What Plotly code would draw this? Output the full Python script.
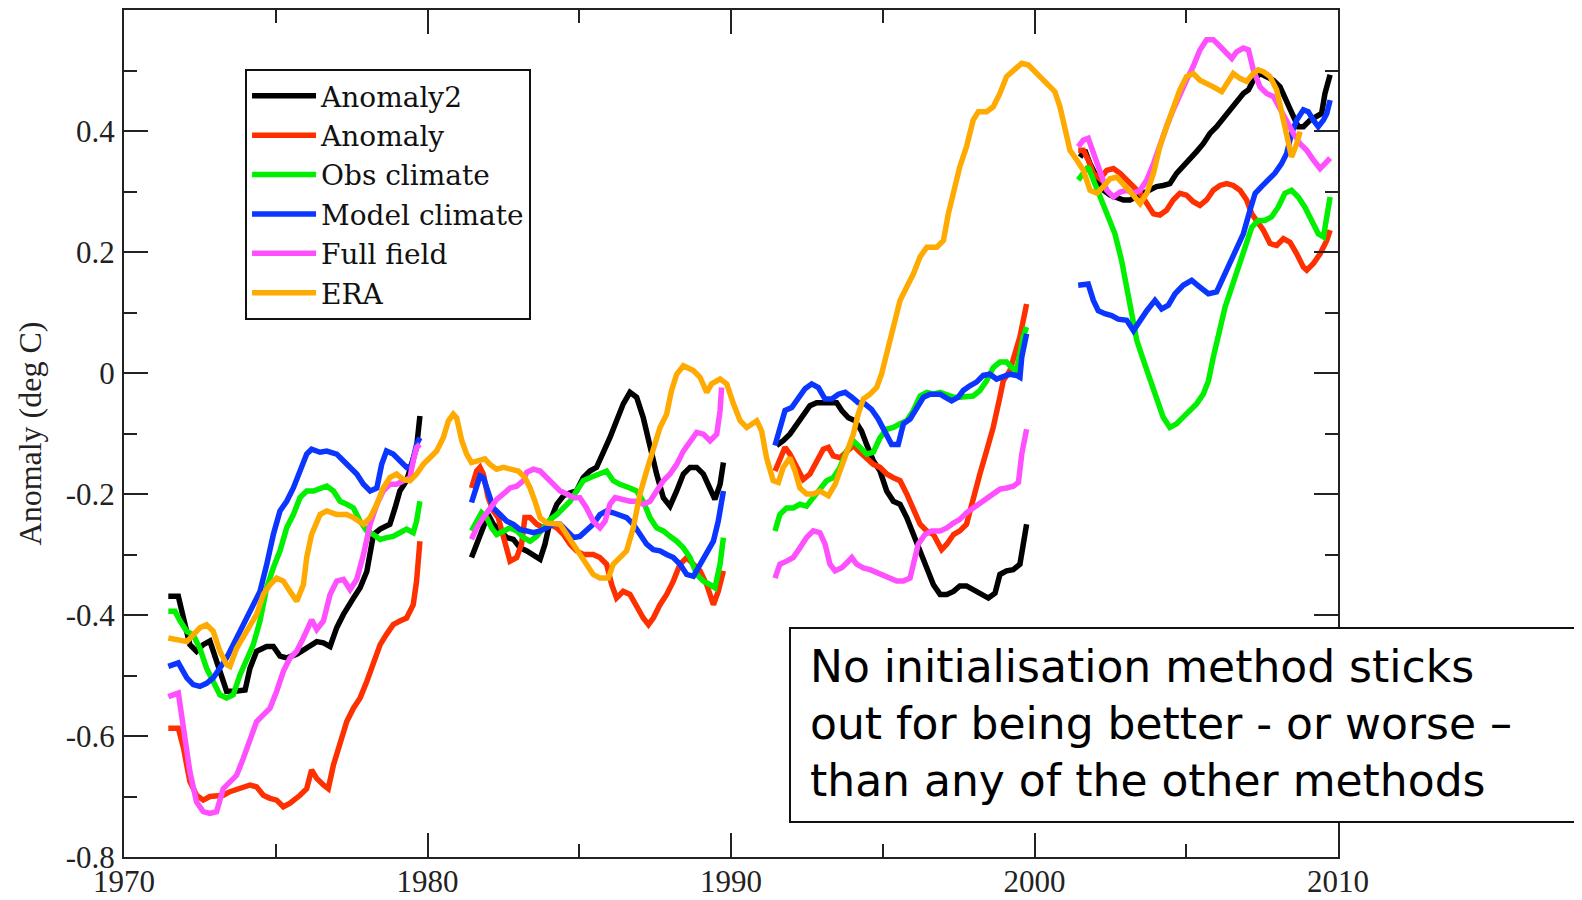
import plotly.graph_objects as go

# ---------------- data (years, anomaly in deg C); None separates forecast periods ----------------
anomaly2_years = [1971.46, 1971.79, 1971.96, 1972.17, 1972.39, 1972.61, 1972.83, 1973.05, 1973.27, 1973.38, 1973.66, 1973.99, 1974.15, 1974.37, 1974.70, 1974.92, 1975.14, 1975.36, 1975.69, 1976.02, 1976.35, 1976.57, 1976.79, 1977.01, 1977.23, 1977.56, 1977.78, 1978.00, 1978.22, 1978.44, 1978.76, 1978.93, 1979.09, 1979.31, 1979.53, 1979.64, 1979.75,
                  None,
                  1981.45, 1981.62, 1981.84, 1982.00, 1982.17, 1982.39, 1982.61, 1982.83, 1983.05, 1983.27, 1983.49, 1983.71, 1983.87, 1984.04, 1984.26, 1984.48, 1984.70, 1984.91, 1985.13, 1985.35, 1985.57, 1985.79, 1986.01, 1986.23, 1986.45, 1986.67, 1986.89, 1987.11, 1987.33, 1987.55, 1987.77, 1987.99, 1988.21, 1988.43, 1988.65, 1988.87, 1989.09, 1989.31, 1989.47, 1989.64, 1989.75,
                  None,
                  1991.50, 1991.72, 1991.94, 1992.16, 1992.38, 1992.60, 1992.82, 1993.04, 1993.26, 1993.48, 1993.65, 1993.87, 1994.09, 1994.30, 1994.47, 1994.69, 1994.91, 1995.13, 1995.35, 1995.57, 1995.79, 1996.01, 1996.23, 1996.45, 1996.67, 1996.89, 1997.11, 1997.33, 1997.54, 1997.76, 1997.98, 1998.20, 1998.48, 1998.70, 1998.86, 1999.08, 1999.30, 1999.52, 1999.63, 1999.74,
                  None,
                  2001.50, 2001.66, 2001.83, 2002.05, 2002.27, 2002.49, 2002.71, 2002.93, 2003.15, 2003.37, 2003.59, 2003.81, 2004.02, 2004.24, 2004.46, 2004.68, 2004.90, 2005.12, 2005.34, 2005.56, 2005.78, 2006.00, 2006.22, 2006.44, 2006.66, 2006.88, 2007.05, 2007.21, 2007.43, 2007.65, 2007.87, 2008.09, 2008.31, 2008.53, 2008.69, 2008.86, 2009.08, 2009.30, 2009.46, 2009.57, 2009.74]
anomaly2_vals = [-0.369, -0.369, -0.405, -0.449, -0.460, -0.449, -0.443, -0.477, -0.504, -0.526, -0.526, -0.524, -0.488, -0.460, -0.452, -0.452, -0.468, -0.471, -0.465, -0.455, -0.444, -0.446, -0.452, -0.421, -0.399, -0.372, -0.355, -0.328, -0.267, -0.258, -0.250, -0.223, -0.195, -0.178, -0.140, -0.123, -0.071,
                 None,
                 -0.305, -0.283, -0.250, -0.234, -0.250, -0.261, -0.272, -0.275, -0.289, -0.294, -0.300, -0.308, -0.283, -0.245, -0.217, -0.203, -0.198, -0.195, -0.173, -0.162, -0.156, -0.134, -0.107, -0.079, -0.051, -0.032, -0.040, -0.074, -0.123, -0.167, -0.206, -0.220, -0.195, -0.167, -0.156, -0.156, -0.167, -0.190, -0.209, -0.184, -0.148,
                 None,
                 -0.120, -0.112, -0.101, -0.084, -0.068, -0.054, -0.049, -0.049, -0.049, -0.049, -0.062, -0.074, -0.079, -0.096, -0.118, -0.145, -0.162, -0.195, -0.212, -0.217, -0.239, -0.267, -0.300, -0.322, -0.350, -0.366, -0.366, -0.361, -0.352, -0.352, -0.358, -0.366, -0.372, -0.364, -0.333, -0.327, -0.325, -0.316, -0.283, -0.250,
                 None,
                 0.357, 0.368, 0.346, 0.324, 0.302, 0.294, 0.291, 0.286, 0.286, 0.291, 0.297, 0.302, 0.308, 0.310, 0.313, 0.330, 0.341, 0.352, 0.366, 0.379, 0.396, 0.407, 0.421, 0.435, 0.448, 0.462, 0.468, 0.484, 0.495, 0.490, 0.484, 0.473, 0.451, 0.424, 0.407, 0.407, 0.418, 0.424, 0.429, 0.462, 0.493]

anomaly_years = [1971.46, 1971.79, 1971.96, 1972.17, 1972.39, 1972.61, 1972.83, 1973.05, 1973.27, 1973.49, 1973.82, 1974.15, 1974.37, 1974.59, 1974.81, 1975.03, 1975.25, 1975.47, 1975.80, 1976.02, 1976.18, 1976.35, 1976.57, 1976.73, 1976.90, 1977.12, 1977.34, 1977.56, 1977.78, 1978.00, 1978.22, 1978.44, 1978.65, 1978.87, 1979.09, 1979.31, 1979.53, 1979.64, 1979.75,
                 None,
                 1981.45, 1981.62, 1981.73, 1981.84, 1982.00, 1982.17, 1982.33, 1982.50, 1982.72, 1982.94, 1983.10, 1983.21, 1983.38, 1983.60, 1983.82, 1984.04, 1984.26, 1984.48, 1984.70, 1984.91, 1985.13, 1985.46, 1985.68, 1985.90, 1986.07, 1986.23, 1986.45, 1986.67, 1986.89, 1987.11, 1987.28, 1987.44, 1987.66, 1987.88, 1988.10, 1988.32, 1988.54, 1988.76, 1988.98, 1989.20, 1989.42, 1989.58, 1989.75,
                 None,
                 1991.45, 1991.61, 1991.78, 1991.94, 1992.16, 1992.38, 1992.60, 1992.82, 1993.04, 1993.21, 1993.37, 1993.59, 1993.81, 1994.03, 1994.25, 1994.47, 1994.69, 1994.91, 1995.13, 1995.35, 1995.57, 1995.79, 1996.01, 1996.23, 1996.45, 1996.67, 1996.94, 1997.11, 1997.33, 1997.54, 1997.76, 1997.98, 1998.20, 1998.42, 1998.64, 1998.86, 1998.97, 1999.19, 1999.41, 1999.52, 1999.74,
                 None,
                 2001.44, 2001.61, 2001.77, 2001.94, 2002.16, 2002.38, 2002.60, 2002.82, 2003.04, 2003.26, 2003.48, 2003.70, 2003.92, 2004.13, 2004.35, 2004.57, 2004.79, 2005.01, 2005.23, 2005.45, 2005.67, 2005.89, 2006.11, 2006.33, 2006.55, 2006.77, 2006.99, 2007.16, 2007.32, 2007.54, 2007.76, 2007.98, 2008.20, 2008.42, 2008.64, 2008.86, 2008.97, 2009.19, 2009.41, 2009.63, 2009.74]
anomaly_vals = [-0.587, -0.587, -0.620, -0.675, -0.698, -0.706, -0.700, -0.698, -0.698, -0.692, -0.687, -0.681, -0.684, -0.698, -0.703, -0.706, -0.717, -0.711, -0.698, -0.687, -0.656, -0.670, -0.681, -0.687, -0.648, -0.609, -0.576, -0.554, -0.537, -0.510, -0.482, -0.449, -0.432, -0.416, -0.410, -0.405, -0.383, -0.344, -0.278,
                None,
                -0.190, -0.162, -0.156, -0.167, -0.206, -0.228, -0.239, -0.272, -0.311, -0.305, -0.283, -0.239, -0.239, -0.250, -0.256, -0.250, -0.256, -0.267, -0.283, -0.294, -0.300, -0.300, -0.305, -0.316, -0.350, -0.372, -0.361, -0.366, -0.388, -0.405, -0.416, -0.405, -0.383, -0.366, -0.344, -0.316, -0.305, -0.316, -0.327, -0.350, -0.383, -0.361, -0.327,
                None,
                -0.162, -0.140, -0.123, -0.134, -0.156, -0.176, -0.167, -0.145, -0.126, -0.123, -0.137, -0.140, -0.129, -0.120, -0.131, -0.142, -0.151, -0.156, -0.167, -0.173, -0.178, -0.200, -0.228, -0.250, -0.261, -0.267, -0.292, -0.283, -0.267, -0.261, -0.250, -0.206, -0.167, -0.129, -0.090, -0.040, -0.013, 0.004, 0.042, 0.060, 0.114,
                None,
                0.368, 0.368, 0.352, 0.330, 0.321, 0.335, 0.338, 0.330, 0.319, 0.308, 0.297, 0.280, 0.263, 0.261, 0.269, 0.286, 0.297, 0.294, 0.283, 0.277, 0.286, 0.302, 0.310, 0.313, 0.310, 0.302, 0.286, 0.263, 0.252, 0.236, 0.214, 0.211, 0.222, 0.216, 0.197, 0.175, 0.170, 0.181, 0.197, 0.219, 0.236]

obs_years = [1971.46, 1971.68, 1971.85, 1972.07, 1972.28, 1972.50, 1972.72, 1972.94, 1973.16, 1973.38, 1973.60, 1973.82, 1974.04, 1974.26, 1974.48, 1974.70, 1974.92, 1975.14, 1975.36, 1975.58, 1975.80, 1976.02, 1976.24, 1976.46, 1976.68, 1976.90, 1977.12, 1977.34, 1977.56, 1977.78, 1978.00, 1978.22, 1978.44, 1978.65, 1978.87, 1979.09, 1979.31, 1979.53, 1979.64, 1979.75,
             None,
             1981.45, 1981.62, 1981.78, 1981.95, 1982.11, 1982.28, 1982.50, 1982.72, 1982.94, 1983.16, 1983.38, 1983.60, 1983.82, 1984.04, 1984.26, 1984.48, 1984.70, 1984.91, 1985.13, 1985.35, 1985.68, 1985.90, 1986.12, 1986.34, 1986.67, 1986.89, 1987.11, 1987.33, 1987.55, 1987.77, 1987.99, 1988.21, 1988.43, 1988.65, 1988.87, 1989.09, 1989.31, 1989.47, 1989.64, 1989.75,
             None,
             1991.45, 1991.61, 1991.83, 1992.05, 1992.27, 1992.49, 1992.71, 1992.93, 1993.15, 1993.37, 1993.59, 1993.81, 1994.03, 1994.25, 1994.47, 1994.69, 1994.91, 1995.13, 1995.35, 1995.57, 1995.79, 1996.01, 1996.23, 1996.45, 1996.67, 1996.89, 1997.11, 1997.33, 1997.54, 1997.76, 1997.98, 1998.20, 1998.42, 1998.64, 1998.86, 1999.08, 1999.25, 1999.41, 1999.52, 1999.63, 1999.74,
             None,
             2001.44, 2001.61, 2001.77, 2001.99, 2002.21, 2002.43, 2002.65, 2002.87, 2003.04, 2003.20, 2003.37, 2003.59, 2003.81, 2004.02, 2004.24, 2004.46, 2004.68, 2004.90, 2005.12, 2005.34, 2005.56, 2005.73, 2005.89, 2006.11, 2006.28, 2006.50, 2006.72, 2006.94, 2007.16, 2007.37, 2007.59, 2007.81, 2008.03, 2008.25, 2008.47, 2008.69, 2008.91, 2009.13, 2009.35, 2009.52, 2009.63, 2009.74]
obs_vals = [-0.394, -0.394, -0.410, -0.427, -0.433, -0.455, -0.488, -0.510, -0.532, -0.537, -0.532, -0.499, -0.471, -0.449, -0.410, -0.355, -0.322, -0.294, -0.256, -0.234, -0.206, -0.195, -0.195, -0.190, -0.187, -0.195, -0.212, -0.217, -0.223, -0.245, -0.261, -0.267, -0.275, -0.272, -0.270, -0.264, -0.258, -0.264, -0.245, -0.212,
            None,
            -0.261, -0.245, -0.231, -0.239, -0.256, -0.267, -0.261, -0.256, -0.261, -0.272, -0.278, -0.270, -0.256, -0.242, -0.234, -0.223, -0.212, -0.195, -0.178, -0.173, -0.167, -0.162, -0.178, -0.184, -0.190, -0.195, -0.212, -0.239, -0.256, -0.261, -0.270, -0.278, -0.289, -0.305, -0.333, -0.344, -0.350, -0.355, -0.316, -0.272,
            None,
            -0.261, -0.234, -0.223, -0.223, -0.217, -0.220, -0.206, -0.190, -0.178, -0.173, -0.156, -0.129, -0.112, -0.123, -0.134, -0.131, -0.107, -0.093, -0.090, -0.084, -0.079, -0.062, -0.038, -0.032, -0.035, -0.032, -0.035, -0.040, -0.040, -0.038, -0.038, -0.029, -0.013, 0.009, 0.018, 0.018, 0.009, 0.004, 0.037, 0.060, 0.076,
            None,
            0.319, 0.330, 0.341, 0.313, 0.286, 0.258, 0.230, 0.186, 0.142, 0.098, 0.054, 0.021, -0.013, -0.046, -0.073, -0.090, -0.084, -0.073, -0.062, -0.051, -0.035, -0.013, 0.026, 0.070, 0.109, 0.142, 0.175, 0.208, 0.241, 0.252, 0.252, 0.258, 0.274, 0.297, 0.302, 0.291, 0.274, 0.252, 0.230, 0.225, 0.258, 0.291]

model_years = [1971.46, 1971.79, 1972.07, 1972.28, 1972.50, 1972.72, 1972.94, 1973.16, 1973.38, 1973.60, 1973.82, 1974.04, 1974.26, 1974.48, 1974.70, 1974.92, 1975.14, 1975.36, 1975.58, 1975.80, 1976.02, 1976.18, 1976.46, 1976.68, 1977.01, 1977.23, 1977.45, 1977.67, 1977.89, 1978.11, 1978.33, 1978.49, 1978.65, 1978.87, 1979.09, 1979.31, 1979.48, 1979.64, 1979.75,
               None,
               1981.45, 1981.62, 1981.73, 1981.84, 1982.00, 1982.17, 1982.39, 1982.61, 1982.83, 1983.05, 1983.27, 1983.49, 1983.71, 1983.93, 1984.15, 1984.37, 1984.59, 1984.81, 1985.02, 1985.24, 1985.46, 1985.68, 1985.90, 1986.12, 1986.34, 1986.56, 1986.78, 1987.00, 1987.22, 1987.44, 1987.66, 1987.88, 1988.10, 1988.32, 1988.54, 1988.76, 1988.98, 1989.20, 1989.42, 1989.58, 1989.75,
               None,
               1991.45, 1991.61, 1991.78, 1992.00, 1992.22, 1992.44, 1992.66, 1992.88, 1993.10, 1993.32, 1993.54, 1993.76, 1993.98, 1994.19, 1994.41, 1994.63, 1994.85, 1995.07, 1995.29, 1995.51, 1995.68, 1995.90, 1996.12, 1996.34, 1996.56, 1996.89, 1997.05, 1997.27, 1997.49, 1997.65, 1997.87, 1998.09, 1998.31, 1998.53, 1998.75, 1998.97, 1999.19, 1999.41, 1999.52, 1999.58, 1999.74,
               None,
               2001.44, 2001.77, 2001.94, 2002.10, 2002.32, 2002.54, 2002.76, 2003.04, 2003.26, 2003.48, 2003.70, 2003.97, 2004.19, 2004.41, 2004.63, 2004.90, 2005.18, 2005.45, 2005.73, 2006.00, 2006.22, 2006.44, 2006.66, 2006.88, 2007.10, 2007.27, 2007.48, 2007.70, 2007.92, 2008.14, 2008.31, 2008.47, 2008.64, 2008.86, 2009.02, 2009.19, 2009.35, 2009.52, 2009.63, 2009.74]
model_vals = [-0.485, -0.479, -0.504, -0.515, -0.518, -0.513, -0.504, -0.488, -0.471, -0.449, -0.427, -0.410, -0.388, -0.361, -0.317, -0.267, -0.228, -0.212, -0.190, -0.162, -0.134, -0.126, -0.131, -0.129, -0.134, -0.145, -0.156, -0.167, -0.184, -0.195, -0.190, -0.151, -0.129, -0.134, -0.145, -0.156, -0.153, -0.118, -0.107,
              None,
              -0.214, -0.184, -0.170, -0.173, -0.200, -0.223, -0.234, -0.245, -0.250, -0.259, -0.261, -0.264, -0.261, -0.256, -0.250, -0.250, -0.261, -0.272, -0.270, -0.261, -0.250, -0.234, -0.228, -0.231, -0.234, -0.239, -0.250, -0.267, -0.283, -0.292, -0.294, -0.300, -0.305, -0.316, -0.333, -0.336, -0.316, -0.294, -0.278, -0.245, -0.195,
              None,
              -0.120, -0.090, -0.062, -0.057, -0.040, -0.026, -0.018, -0.024, -0.043, -0.043, -0.035, -0.032, -0.040, -0.049, -0.051, -0.060, -0.076, -0.096, -0.118, -0.118, -0.084, -0.076, -0.057, -0.040, -0.035, -0.035, -0.040, -0.046, -0.040, -0.029, -0.021, -0.015, -0.004, -0.002, -0.010, -0.007, -0.002, -0.004, -0.007, 0.026, 0.065,
              None,
              0.145, 0.147, 0.120, 0.103, 0.098, 0.095, 0.089, 0.087, 0.070, 0.087, 0.103, 0.120, 0.106, 0.112, 0.131, 0.145, 0.153, 0.142, 0.131, 0.134, 0.158, 0.181, 0.203, 0.230, 0.269, 0.297, 0.308, 0.319, 0.330, 0.346, 0.363, 0.396, 0.418, 0.435, 0.432, 0.418, 0.407, 0.418, 0.429, 0.451]

full_years = [1971.46, 1971.79, 1971.96, 1972.17, 1972.39, 1972.61, 1972.83, 1973.05, 1973.27, 1973.49, 1973.71, 1973.93, 1974.15, 1974.37, 1974.59, 1974.81, 1975.03, 1975.25, 1975.47, 1975.69, 1975.91, 1976.18, 1976.35, 1976.57, 1976.79, 1977.01, 1977.23, 1977.45, 1977.67, 1977.89, 1978.11, 1978.33, 1978.54, 1978.76, 1978.98, 1979.20, 1979.42, 1979.53, 1979.64, 1979.75,
              None,
              1981.45, 1981.62, 1981.84, 1982.06, 1982.28, 1982.50, 1982.72, 1982.94, 1983.16, 1983.27, 1983.49, 1983.71, 1983.93, 1984.15, 1984.37, 1984.59, 1984.81, 1985.02, 1985.24, 1985.46, 1985.68, 1985.85, 1986.01, 1986.18, 1986.45, 1986.67, 1986.89, 1987.11, 1987.33, 1987.55, 1987.77, 1987.99, 1988.21, 1988.43, 1988.65, 1988.87, 1989.09, 1989.31, 1989.53, 1989.64, 1989.69,
              None,
              1991.45, 1991.61, 1991.83, 1992.05, 1992.27, 1992.49, 1992.71, 1992.93, 1993.10, 1993.26, 1993.43, 1993.65, 1993.81, 1993.98, 1994.14, 1994.36, 1994.58, 1994.80, 1995.02, 1995.24, 1995.46, 1995.68, 1995.90, 1996.01, 1996.17, 1996.39, 1996.61, 1996.89, 1997.11, 1997.33, 1997.54, 1997.76, 1997.98, 1998.20, 1998.42, 1998.64, 1998.86, 1999.08, 1999.30, 1999.47, 1999.58, 1999.74,
              None,
              2001.44, 2001.61, 2001.77, 2001.94, 2002.16, 2002.38, 2002.60, 2002.82, 2003.04, 2003.26, 2003.48, 2003.70, 2003.92, 2004.13, 2004.35, 2004.57, 2004.79, 2005.01, 2005.23, 2005.45, 2005.67, 2005.89, 2006.11, 2006.33, 2006.50, 2006.66, 2006.88, 2007.05, 2007.21, 2007.43, 2007.65, 2007.87, 2008.09, 2008.31, 2008.53, 2008.75, 2008.97, 2009.19, 2009.41, 2009.57, 2009.74]
full_vals = [-0.535, -0.529, -0.587, -0.659, -0.709, -0.725, -0.728, -0.725, -0.687, -0.675, -0.665, -0.637, -0.609, -0.576, -0.565, -0.554, -0.526, -0.493, -0.471, -0.460, -0.438, -0.408, -0.424, -0.410, -0.366, -0.344, -0.341, -0.358, -0.341, -0.300, -0.250, -0.217, -0.195, -0.184, -0.184, -0.178, -0.173, -0.145, -0.123, -0.118,
             None,
             -0.275, -0.256, -0.239, -0.223, -0.209, -0.200, -0.190, -0.187, -0.178, -0.164, -0.159, -0.162, -0.173, -0.184, -0.195, -0.200, -0.206, -0.206, -0.223, -0.245, -0.256, -0.245, -0.217, -0.206, -0.209, -0.212, -0.212, -0.217, -0.212, -0.195, -0.178, -0.167, -0.151, -0.129, -0.112, -0.098, -0.101, -0.112, -0.101, -0.062, -0.024,
             None,
             -0.339, -0.316, -0.311, -0.305, -0.289, -0.272, -0.261, -0.264, -0.283, -0.316, -0.327, -0.322, -0.314, -0.305, -0.316, -0.322, -0.325, -0.330, -0.336, -0.341, -0.344, -0.344, -0.339, -0.316, -0.283, -0.267, -0.261, -0.261, -0.256, -0.248, -0.242, -0.231, -0.223, -0.214, -0.206, -0.198, -0.192, -0.190, -0.187, -0.181, -0.134, -0.093,
             None,
             0.374, 0.385, 0.388, 0.363, 0.330, 0.302, 0.291, 0.299, 0.302, 0.297, 0.302, 0.319, 0.346, 0.379, 0.407, 0.435, 0.462, 0.484, 0.507, 0.534, 0.551, 0.551, 0.540, 0.529, 0.520, 0.531, 0.537, 0.534, 0.501, 0.473, 0.462, 0.457, 0.435, 0.413, 0.396, 0.379, 0.368, 0.352, 0.338, 0.346, 0.355]

era_years = [1971.46, 1971.79, 1972.07, 1972.28, 1972.50, 1972.72, 1972.94, 1973.16, 1973.38, 1973.49, 1973.71, 1974.04, 1974.37, 1974.59, 1974.81, 1975.03, 1975.25, 1975.47, 1975.69, 1975.91, 1976.02, 1976.18, 1976.46, 1976.68, 1977.01, 1977.34, 1977.56, 1977.89, 1978.11, 1978.33, 1978.54, 1978.76, 1978.98, 1979.20, 1979.42, 1979.64, 1979.86, 1980.08,
             1980.30, 1980.52, 1980.69, 1980.85, 1980.96, 1981.13, 1981.29, 1981.45, 1981.62, 1981.89, 1982.06, 1982.28, 1982.50, 1982.77, 1982.99, 1983.21, 1983.38, 1983.54, 1983.71, 1983.93, 1984.15, 1984.37, 1984.59, 1984.81, 1985.02, 1985.24, 1985.46, 1985.68, 1985.96, 1986.12, 1986.34, 1986.56, 1986.78, 1987.00, 1987.22, 1987.44, 1987.66, 1987.88, 1988.04, 1988.21, 1988.43, 1988.76, 1988.98, 1989.20, 1989.36, 1989.64, 1989.86, 1990.08, 1990.30,
             1990.52, 1990.85, 1991.01, 1991.17, 1991.39, 1991.56, 1991.72, 1991.94, 1992.11, 1992.27, 1992.49, 1992.71, 1992.93, 1993.21, 1993.43, 1993.59, 1993.81, 1994.03, 1994.19, 1994.36, 1994.58, 1994.80, 1994.96,
             1995.13, 1995.35, 1995.57, 1995.79, 1996.01, 1996.23, 1996.45, 1996.78, 1997.00, 1997.16, 1997.33, 1997.54, 1997.76, 1997.98, 1998.15, 1998.42, 1998.64, 1998.86, 1999.08, 1999.30, 1999.58, 1999.80, 2000.07,
             2000.18, 2000.40, 2000.67, 2000.84, 2001.00, 2001.17, 2001.39, 2001.61, 2001.83, 2002.05, 2002.27, 2002.49, 2002.71, 2002.93, 2003.20, 2003.48, 2003.70, 2003.92, 2004.13, 2004.35, 2004.57, 2004.79, 2005.01, 2005.23, 2005.45, 2005.67, 2005.89, 2006.17, 2006.33, 2006.55, 2006.77, 2006.99, 2007.21, 2007.37, 2007.54, 2007.76, 2007.98, 2008.14, 2008.31, 2008.47, 2008.64, 2008.75]
era_vals = [-0.438, -0.441, -0.444, -0.433, -0.421, -0.416, -0.427, -0.460, -0.482, -0.485, -0.455, -0.427, -0.399, -0.366, -0.350, -0.339, -0.344, -0.361, -0.377, -0.350, -0.305, -0.267, -0.234, -0.228, -0.234, -0.234, -0.239, -0.250, -0.239, -0.217, -0.190, -0.173, -0.167, -0.176, -0.178, -0.167, -0.151, -0.140,
            -0.129, -0.107, -0.079, -0.068, -0.074, -0.112, -0.134, -0.148, -0.145, -0.142, -0.151, -0.159, -0.156, -0.159, -0.162, -0.173, -0.190, -0.212, -0.239, -0.248, -0.248, -0.250, -0.267, -0.283, -0.300, -0.316, -0.333, -0.339, -0.339, -0.316, -0.305, -0.294, -0.256, -0.200, -0.162, -0.129, -0.090, -0.068, -0.029, -0.002, 0.012, 0.004, -0.007, -0.032, -0.018, -0.010, -0.018, -0.051, -0.079,
            -0.090, -0.079, -0.096, -0.140, -0.178, -0.181, -0.156, -0.140, -0.162, -0.190, -0.200, -0.200, -0.195, -0.203, -0.184, -0.162, -0.134, -0.101, -0.068, -0.043, -0.035, -0.024, -0.002,
            0.031, 0.076, 0.120, 0.142, 0.164, 0.192, 0.208, 0.208, 0.219, 0.263, 0.297, 0.341, 0.374, 0.418, 0.432, 0.432, 0.440, 0.462, 0.490, 0.501, 0.512, 0.509, 0.495,
            0.490, 0.476, 0.465, 0.440, 0.402, 0.368, 0.352, 0.335, 0.302, 0.297, 0.308, 0.321, 0.324, 0.313, 0.297, 0.280, 0.297, 0.330, 0.374, 0.407, 0.440, 0.468, 0.490, 0.495, 0.484, 0.479, 0.473, 0.465, 0.479, 0.495, 0.487, 0.482, 0.495, 0.501, 0.498, 0.490, 0.468, 0.429, 0.390, 0.357, 0.379, 0.399]

series_names = ["Anomaly2", "Anomaly", "Obs climate", "Model climate", "Full field", "ERA"]
series_colors = ["#000000", "#ff3000", "#00f000", "#0a36ff", "#ff50ff", "#ffaa00"]

x_tickvals = [1970, 1980, 1990, 2000, 2010]
x_ticktext = ["1970", "1980", "1990", "2000", "2010"]
y_tickvals = [-0.8, -0.6, -0.4, -0.2, 0, 0.2, 0.4]
y_ticktext = ["-0.8", "-0.6", "-0.4", "-0.2", "0", "0.2", "0.4"]

note_text = ("No initialisation method sticks<br>"
             "out for being better - or worse \u2013<br>"
             "than any of the other methods")

# ---------------- figure ----------------
serif = "Liberation Serif, Times New Roman, serif"
all_x = [anomaly2_years, anomaly_years, obs_years, model_years, full_years, era_years]
all_y = [anomaly2_vals, anomaly_vals, obs_vals, model_vals, full_vals, era_vals]

fig = go.Figure()
for name, color, xs, ys in zip(series_names, series_colors, all_x, all_y):
    fig.add_trace(go.Scatter(x=xs, y=ys, name=name, mode="lines",
                             line=dict(color=color, width=5.5),
                             connectgaps=False))

axis_common = dict(showline=True, linecolor="#222", linewidth=2, mirror="allticks",
                   ticks="inside", tickwidth=2, tickcolor="#222", ticklen=24,
                   showgrid=False, zeroline=False, automargin=False,
                   tickfont=dict(family=serif, size=31, color="#222"))

fig.update_xaxes(range=[1970, 2010], tickvals=x_tickvals, ticktext=x_ticktext,
                 ticklabelstandoff=-4,
                 minor=dict(ticks="inside", ticklen=13, tickwidth=2, tickcolor="#222",
                            dtick=5, tick0=1970, showgrid=False),
                 **axis_common)
fig.update_yaxes(range=[-0.8, 0.6], tickvals=y_tickvals, ticktext=y_ticktext,
                 ticklabelstandoff=1,
                 minor=dict(ticks="inside", ticklen=13, tickwidth=2, tickcolor="#222",
                            dtick=0.1, tick0=0, showgrid=False),
                 title=dict(text="Anomaly (deg C)", standoff=15,
                            font=dict(family=serif, size=32, color="#222")),
                 **axis_common)

# annotation box (white, drawn above the plot, running off the right edge)
fig.add_shape(type="rect", xref="paper", yref="paper",
              x0=0.5486, x1=1.22, y0=0.0413, y1=0.2704,
              fillcolor="white", line=dict(color="#111", width=2), layer="above")
fig.add_annotation(xref="paper", yref="paper", x=0.5634, y=0.158,
                   xanchor="left", yanchor="middle", align="left", showarrow=False,
                   text=note_text,
                   font=dict(family="DejaVu Sans, sans-serif", size=44, color="black"))

# the page body adds an 8px margin, so the figure is 8px smaller than the window
fig.update_layout(
    width=1574, height=892,
    margin=dict(l=116, r=244, t=2, b=43),
    paper_bgcolor="white", plot_bgcolor="white",
    showlegend=True,
    legend=dict(x=0.0997, y=0.9303, xanchor="left", yanchor="top",
                bgcolor="white", bordercolor="#111", borderwidth=2,
                font=dict(family="DejaVu Serif, serif", size=28, color="#111"),
                itemwidth=64, tracegroupgap=0),
)

fig.write_html("out.html", config={"displayModeBar": False})
